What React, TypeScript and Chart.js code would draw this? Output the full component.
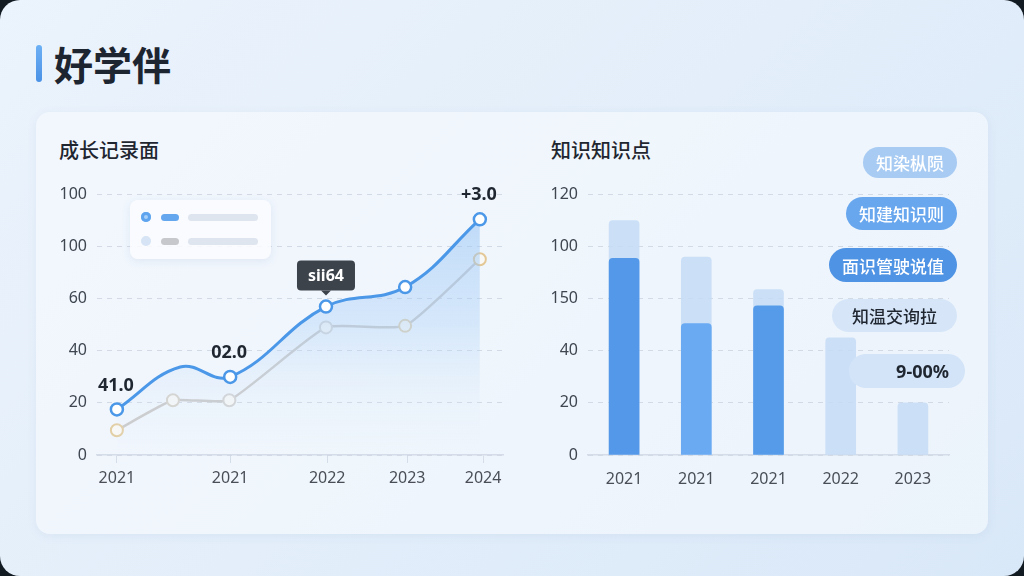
import React, { useEffect, useRef } from "react";
import { Chart, registerables } from "chart.js";

Chart.register(...registerables);

// ---------- data ----------
const leftYTickLabels = ["0", "20", "40", "60", "100", "100"];
const leftXTickPositions = [4.9, 32.8, 56.7, 76.4, 95.1];
const leftXTickLabels = ["2021", "2021", "2022", "2023", "2024"];

const blueX = [4.9, 20.5, 32.8, 56.4, 75.9, 94.3];
const blueY = [17.5, 33.8, 30, 57, 64.5, 90.5];
const blueRadius = [6, 0, 6, 6, 6, 6];
const blueLabels = ["41.0", "", "02.0", "", "", "+3.0"];

const grayX = [4.9, 18.7, 32.6, 56.4, 75.9, 94.3];
const grayY = [9.5, 21, 21, 49, 49.6, 75.2];
const grayMarkerColors = ["#e2cfa6", "#d6d3cc", "#d3d3d3", "#d6d6d6", "#e0d2b4", "#e3c896"];

const tooltipIndex = 3;
const tooltipText = "sii64";

const rightCategories = ["2021", "2021", "2021", "2022", "2023"];
const rightYTickLabels = ["0", "20", "40", "150", "100", "120"];
const rightLightValues = [90, 76, 63.5, 45, 20];
const rightDarkValues = [75.5, 50.5, 57.3, null, null];
const rightDarkColors = ["#5398e9", "#69aaf3", "#559bea"];

const pillTexts = ["知染枞陨", "知建知识则", "面识管驶说值", "知温交询拉", "9-00%"];

const FONT = "'Noto Sans', 'Noto Sans CJK SC', sans-serif";
const CJK = "'Noto Sans CJK SC', 'Noto Sans', sans-serif";

const gridDash = { display: false, dash: [5, 5] } as any;

const CANVAS_TOP = 175;
const CANVAS_H = 325;

function LeftChart() {
  const ref = useRef<HTMLCanvasElement>(null);
  useEffect(() => {
    const labelPlugin = {
      id: "lbls",
      afterDatasetsDraw(chart: any) {
        const ctx = chart.ctx;
        const meta = chart.getDatasetMeta(0);
        ctx.save();
        ctx.font = `bold 18px ${FONT}`;
        ctx.fillStyle = "#1f2630";
        ctx.textAlign = "center";
        ctx.textBaseline = "middle";
        blueLabels.forEach((t, i) => {
          if (!t) return;
          const p = meta.data[i];
          ctx.fillText(t, p.x - 1, p.y - 24);
        });
        // tooltip box
        const p = meta.data[tooltipIndex];
        const w = 58, h = 30;
        const bx = p.x - w / 2, by = p.y - 16 - h;
        ctx.fillStyle = "#3d434b";
        ctx.beginPath();
        (ctx as any).roundRect(bx, by, w, h, 4);
        ctx.fill();
        ctx.beginPath();
        ctx.moveTo(p.x - 5, by + h);
        ctx.lineTo(p.x + 5, by + h);
        ctx.lineTo(p.x, by + h + 5);
        ctx.closePath();
        ctx.fill();
        ctx.fillStyle = "#ffffff";
        ctx.font = `bold 16px ${FONT}`;
        ctx.fillText(tooltipText, p.x, by + h / 2 + 1);
        ctx.restore();
      },
    };
    const chart = new Chart(ref.current!, {
      type: "line",
      data: {
        datasets: [
          {
            data: blueX.map((x, i) => ({ x, y: blueY[i] })),
            borderColor: "#4b97e8",
            borderWidth: 3,
            tension: 0.4,
            fill: "origin",
            backgroundColor: (c: any) => {
              const { ctx, chartArea } = c.chart;
              if (!chartArea) return "rgba(150,195,245,0.3)";
              const g = ctx.createLinearGradient(0, chartArea.top, 0, chartArea.bottom);
              g.addColorStop(0, "rgba(140,190,245,0.55)");
              g.addColorStop(0.5, "rgba(165,205,248,0.35)");
              g.addColorStop(1, "rgba(235,243,252,0.0)");
              return g;
            },
            pointRadius: blueRadius,
            pointBackgroundColor: "#ffffff",
            pointBorderColor: "#4b97e8",
            pointBorderWidth: 2.5,
            order: 0,
          },
          {
            data: grayX.map((x, i) => ({ x, y: grayY[i] })),
            borderColor: "#cacaca",
            borderWidth: 2.5,
            tension: 0.15,
            fill: false,
            pointRadius: 6,
            pointBackgroundColor: "#f8f8f6",
            pointBorderColor: grayMarkerColors,
            pointBorderWidth: 2,
            order: 1,
          },
        ],
      },
      options: {
        animation: false,
        responsive: false,
        layout: { padding: { top: 8, right: 17, left: 0, bottom: 0 } },
        plugins: { legend: { display: false }, tooltip: { enabled: false } },
        scales: {
          x: {
            type: "linear",
            min: 0,
            max: 100,
            afterBuildTicks: (s: any) => {
              s.ticks = leftXTickPositions.map((v) => ({ value: v }));
            },
            afterFit: (s: any) => {
              s.height = 45;
            },
            grid: { drawOnChartArea: false, drawTicks: true, tickLength: 8, color: "#d5dde8" },
            border: { display: true, color: "#d3dce8", width: 1.5 },
            ticks: {
              autoSkip: false,
              maxRotation: 0,
              padding: 6,
              color: "#4a4f57",
              font: { size: 16, family: FONT },
              callback: (_v: any, i: number) => leftXTickLabels[i],
            },
          },
          y: {
            min: 0,
            max: 100,
            afterFit: (s: any) => {
              s.width = 47;
            },
            grid: { color: "rgba(185,195,210,0.55)", drawTicks: false },
            border: gridDash,
            ticks: {
              stepSize: 20,
              padding: 10,
              color: "#3f4650",
              font: { size: 16, family: FONT },
              callback: (_v: any, i: number) => leftYTickLabels[i],
            },
          },
        },
      },
      plugins: [labelPlugin],
    } as any);
    return () => chart.destroy();
  }, []);
  return (
    <canvas
      ref={ref}
      width={470}
      height={CANVAS_H}
      style={{ position: "absolute", left: 50, top: CANVAS_TOP, width: 470, height: CANVAS_H }}
    />
  );
}

function RightChart() {
  const ref = useRef<HTMLCanvasElement>(null);
  useEffect(() => {
    const chart = new Chart(ref.current!, {
      type: "bar",
      data: {
        labels: rightCategories,
        datasets: [
          {
            data: rightDarkValues,
            backgroundColor: rightDarkColors,
            borderRadius: 4,
            borderSkipped: "bottom",
            barThickness: 30,
            grouped: false,
            order: 0,
          },
          {
            data: rightLightValues,
            backgroundColor: "rgba(196,220,246,0.85)",
            borderRadius: 4,
            borderSkipped: "bottom",
            barThickness: 30,
            grouped: false,
            order: 1,
          },
        ],
      },
      options: {
        animation: false,
        responsive: false,
        layout: { padding: { top: 8, right: 11, left: 0, bottom: 0 } },
        plugins: { legend: { display: false }, tooltip: { enabled: false } },
        scales: {
          x: {
            afterFit: (s: any) => {
              s.height = 45;
            },
            grid: { display: false },
            border: { display: true, color: "#d3dce8", width: 1.5 },
            ticks: {
              padding: 7,
              color: "#4a4f57",
              font: { size: 16, family: FONT },
            },
          },
          y: {
            min: 0,
            max: 100,
            afterFit: (s: any) => {
              s.width = 58;
            },
            grid: { color: "rgba(185,195,210,0.55)", drawTicks: false },
            border: gridDash,
            ticks: {
              stepSize: 20,
              padding: 10,
              color: "#3f4650",
              font: { size: 16, family: FONT },
              callback: (_v: any, i: number) => rightYTickLabels[i],
            },
          },
        },
      },
    } as any);
    return () => chart.destroy();
  }, []);
  return (
    <canvas
      ref={ref}
      width={430}
      height={CANVAS_H}
      style={{ position: "absolute", left: 530, top: CANVAS_TOP, width: 430, height: CANVAS_H }}
    />
  );
}

const pillStyles: React.CSSProperties[] = [
  { right: 67, top: 147, height: 31, padding: "0 13px", background: "#a7cbf3", color: "#ffffff" },
  { right: 67, top: 197, height: 33, padding: "0 13px", background: "#68a7ee", color: "#ffffff" },
  { right: 67, top: 248, height: 34, padding: "0 13px", background: "#4f93e4", color: "#ffffff" },
  { right: 67, top: 299, height: 33, padding: "0 20px", background: "#d6e6f8", color: "#1f2630" },
  { right: 59, top: 354, height: 34, width: 116, padding: "0 16px 0 0", justifyContent: "flex-end", background: "#d3e4f8", color: "#1f2630", fontWeight: 700, fontFamily: FONT, fontSize: 18 },
];

export default function App() {
  useEffect(() => {
    document.body.style.margin = "0";
    document.body.style.background = "#121a22";
  }, []);
  return (
    <div
      style={{
        position: "relative",
        width: 1024,
        height: 576,
        overflow: "hidden",
        background: "#121a22",
        fontFamily: CJK,
      }}
    >
      <div
        style={{
          position: "absolute",
          inset: 0,
          borderRadius: 20,
          background: "linear-gradient(135deg, #ebf3fc 0%, #e3eefa 50%, #d9e8f8 100%)",
        }}
      />
      {/* header */}
      <div style={{ position: "absolute", left: 36, top: 45, width: 6, height: 37, borderRadius: 3, background: "linear-gradient(180deg,#6cb0f5,#4b92e6)" }} />
      <div style={{ position: "absolute", left: 54, top: 37, fontSize: 39, fontWeight: 700, color: "#1d2530", lineHeight: "52px", letterSpacing: 0 }}>好学伴</div>
      {/* card */}
      <div
        style={{
          position: "absolute",
          left: 36,
          top: 112,
          width: 952,
          height: 422,
          borderRadius: 14,
          background: "rgba(247,250,254,0.62)",
          boxShadow: "0 2px 10px rgba(120,150,190,0.10)",
        }}
      />
      <div style={{ position: "absolute", left: 59, top: 136, fontSize: 20, fontWeight: 500, color: "#1f2630", lineHeight: "28px" }}>成长记录面</div>
      <div style={{ position: "absolute", left: 551, top: 136, fontSize: 20, fontWeight: 500, color: "#1f2630", lineHeight: "28px" }}>知识知识点</div>
      <LeftChart />
      <RightChart />
      {/* legend card */}
      <div
        style={{
          position: "absolute",
          left: 130,
          top: 200,
          width: 141,
          height: 59,
          borderRadius: 8,
          background: "rgba(250,252,255,0.85)",
          boxShadow: "0 2px 8px rgba(120,150,190,0.15)",
        }}
      >
        <div style={{ position: "absolute", left: 11, top: 12, width: 10, height: 10, borderRadius: 5, background: "#5ea4ef", boxShadow: "inset 0 0 0 3px #5ea4ef, inset 0 0 0 5px #a9d0f8" }} />
        <div style={{ position: "absolute", left: 31, top: 14, width: 18, height: 7, borderRadius: 4, background: "#64a7ef" }} />
        <div style={{ position: "absolute", left: 58, top: 14, width: 70, height: 7, borderRadius: 4, background: "#dfe5ee" }} />
        <div style={{ position: "absolute", left: 11, top: 36, width: 10, height: 10, borderRadius: 5, background: "#d6e4f5" }} />
        <div style={{ position: "absolute", left: 31, top: 38, width: 18, height: 7, borderRadius: 4, background: "#c6c8cc" }} />
        <div style={{ position: "absolute", left: 58, top: 38, width: 70, height: 7, borderRadius: 4, background: "#dfe5ee" }} />
      </div>
      {/* pills */}
      {pillTexts.map((t, i) => (
        <div
          key={i}
          style={{
            position: "absolute",
            display: "flex",
            alignItems: "center",
            justifyContent: "center",
            borderRadius: 18,
            fontSize: 17,
            fontWeight: 500,
            whiteSpace: "nowrap",
            boxSizing: "border-box",
            ...pillStyles[i],
          }}
        >
          {t}
        </div>
      ))}
    </div>
  );
}
